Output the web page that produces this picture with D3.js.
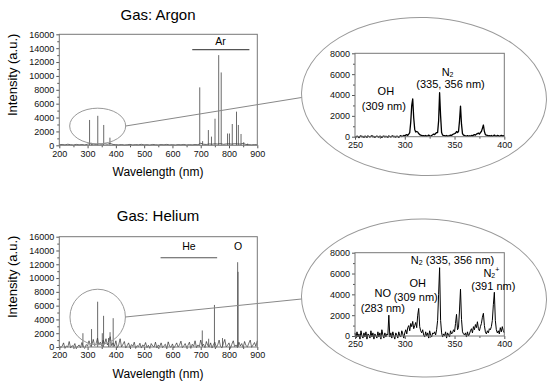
<!DOCTYPE html>
<html>
<head>
<meta charset="utf-8">
<script src="https://cdn.jsdelivr.net/npm/d3@7"></script>
<style>
body { margin: 0; background: #fff; }
svg { font-family: "Liberation Sans", Arial, sans-serif; }
</style>
</head>
<body>
<svg id="chart" width="550" height="385"></svg>
<script>
// tick labels
const mainXTicks = [200, 300, 400, 500, 600, 700, 800, 900];
const mainXMinor = [250, 350, 450, 550, 650, 750, 850];
const mainYTicks = [0, 2000, 4000, 6000, 8000, 10000, 12000, 14000, 16000];
const mainYMinor = [1000, 3000, 5000, 7000, 9000, 11000, 13000, 15000];
const insetXTicks = [250, 300, 350, 400];
const insetXMinor = [275, 325, 375];
const insetYTicks = [0, 2000, 4000, 6000, 8000];
const insetYMinor = [1000, 3000, 5000, 7000];

// argon, full range: baseline every 10 nm (200..900) + emission lines
const arBase = [80, 120, 60, 150, 90, 40, 130, 70, 110, 50,
  160, 250, 180, 120, 200, 140, 230, 150, 260, 120,
  90, 60, 110, 40, 80, 130, 50, 100, 70, 140,
  60, 90, 40, 120, 80, 50, 110, 70, 130, 60,
  90, 40, 100, 70, 120, 50, 90, 60, 110, 80,
  300, 150, 120, 200, 160, 220, 180, 250, 140, 190,
  210, 170, 230, 200, 180, 260, 120, 90, 60, 100, 80];
const arLineNm = [307, 313, 316, 336, 357, 379, 696.5, 706.7, 727, 738, 750.5, 763.5, 772.4,
  794.8, 801.5, 811.5, 826.5, 833, 842.5, 852, 866];
const arLineI = [3650, 350, 250, 4250, 2930, 1100, 8350, 600, 2200, 1250, 3830, 13000, 10500,
  1700, 1700, 3070, 4850, 2930, 1630, 450, 250];

// helium, full range: noise every 5 nm (200..900) + emission lines
const heBase = [250, -100, 100, 600, -200, 150, 0, 800, -150, 200,
  50, 500, -250, 100, 300, -100, 650, 0, -200, 350,
  150, 900, 100, 300, 1100, 200, 500, 1300, 300, 700,
  200, 1000, 400, 1200, 300, 800, 1500, 200, 600, 100,
  900, -100, 300, 1200, 0, 400, 800, -150, 200, 600,
  -100, 350, 100, 700, -200, 200, 50, 550, -150, 300,
  100, 650, -100, 250, -200, 500, 150, 0, 700, -150,
  300, 50, 600, -100, 200, 400, -250, 750, 100, -50,
  450, -150, 200, 600, 0, 300, 850, -100, 150, 500,
  -50, 250, 700, -200, 400, 100, 900, -100, 300, 50,
  1000, 150, 400, -100, 800, 200, 0, 600, -150, 350,
  700, -50, 300, 1000, 100, -150, 500, 1100, 0, 250,
  600, -200, 400, 900, 50, 300, -100, 700, 150, 500,
  -100, 800, 200, 0, 550, 1000, -50, 300, 650, 100, 900];
const heLineNm = [283.5, 314, 335.5, 352, 356.5, 374, 379.5, 390.5, 705.5, 728, 748.5, 777, 830.5, 832];
const heLineI = [2000, 2600, 6570, 2000, 4520, 1300, 2150, 4180, 2400, 1200, 6100, 1300, 12300, 10900];

// zoomed spectra, 1 nm steps from 250 to 400 nm
const arZoom = [20, -40, 60, 0, -80, 40, 80, -20, 30, -60,
  50, 10, -50, 70, 20, -30, 40, 90, -10, 30,
  -60, 20, 60, 0, -40, 50, 10, -70, 30, 60,
  -20, 40, 0, -50, 70, 20, -30, 50, 80, -10,
  30, -40, 60, 10, -60, 40, 100, 20, 60, 120,
  80, 150, 200, 120, 250, 400, 1400, 3000, 3620, 1800,
  700, 450, 500, 450, 300, 200, 150, 120, 80, 100,
  60, 120, 40, 90, 150, 80, 60, 120, 180, 250,
  200, 300, 400, 400, 1500, 4220, 2000, 400, 150, 120,
  100, 60, 120, 40, 80, 100, 150, 120, 200, 260,
  300, 350, 500, 400, 500, 1500, 2940, 1200, 300, 150,
  120, 80, 60, 100, 40, 90, 60, 120, 80, 150,
  200, 150, 250, 300, 350, 250, 400, 500, 800, 1120,
  500, 200, 150, 120, 80, 100, 60, 120, 40, 90,
  150, 80, 60, 120, 100, 40, 80, 130, 60, 100, 50];
const heZoom = [300, -200, 400, -100, 200, -300, 500, 0, -200, 300,
  -100, 400, -300, 200, 100, -200, 500, -100, 300, -300,
  200, 0, -200, 400, -100, 300, -300, 600, 100, -200,
  300, -100, 200, 100, 2000, -100, 300, -200, 400, 0,
  -300, 300, 100, -200, 400, 0, -100, 500, 200, -200,
  300, 600, 200, 800, 1000, 500, 1200, 900, 1400, 700,
  1000, 1300, 800, 2000, 2650, 900, 500, 300, 600, 100,
  -100, 400, 0, 300, -200, 500, 100, -100, 300, 200,
  400, 100, 600, 1500, 4000, 6560, 1500, 300, -100, 200,
  0, 400, -200, 300, 100, -100, 500, 200, 300, 600,
  400, 1200, 2080, 600, 800, 2500, 4500, 1600, 400, 200,
  100, 300, -100, 400, 0, 200, 500, 700, 300, 900,
  600, 1100, 800, 1370, 700, 500, 900, 1200, 1800, 2180,
  1000, 400, 200, 500, 300, 700, 600, 900, 1500, 3000,
  4200, 1500, 600, 300, 500, 200, 800, 400, 900, 500, 300];

const svg = d3.select("#chart");

function axesBox(g, x, y, xt, xm, yt, ym, fs) {
    const [x0, x1] = x.range();
    const [y0, y1] = y.range();
    const fmt = d3.format("d");
    g.append("g").attr("transform", `translate(0,${y0})`)
        .call(d3.axisBottom(x).tickValues(xm).tickSize(2).tickFormat(""));
    g.append("g").attr("transform", `translate(0,${y0})`)
        .call(d3.axisBottom(x).tickValues(xt).tickSize(3).tickPadding(2).tickFormat(fmt));
    g.append("g").attr("transform", `translate(${x0},0)`)
        .call(d3.axisLeft(y).tickValues(ym).tickSize(2).tickFormat(""));
    g.append("g").attr("transform", `translate(${x0},0)`)
        .call(d3.axisLeft(y).tickValues(yt).tickSize(3).tickPadding(2).tickFormat(fmt));
    g.selectAll(".domain").remove();
    g.selectAll(".tick line").attr("stroke", "#555");
    g.selectAll(".tick text").attr("font-size", fs).attr("fill", "#111")
        .attr("font-family", "Liberation Sans, Arial, sans-serif");
    g.append("rect")
        .attr("x", x0).attr("y", y1)
        .attr("width", x1 - x0).attr("height", y0 - y1)
        .attr("fill", "none").attr("stroke", "#777").attr("stroke-width", 1);
}

function mainPanel(cfg) {
    const g = svg.append("g");
    const x = d3.scaleLinear().domain([200, 900]).range([59.3, 257.3]);
    const y = d3.scaleLinear().domain([0, 16000]).range(cfg.yr);

    const pts = cfg.base.map((v, i) => [200 + i * cfg.step, v]);
    g.append("path")
        .datum(pts)
        .attr("fill", "none")
        .attr("stroke", cfg.baseColor)
        .attr("stroke-width", cfg.baseWidth)
        .attr("d", d3.line().x(d => x(d[0])).y(d => y(d[1])));

    g.selectAll(".spike")
        .data(cfg.nm.map((n, i) => [n, cfg.h[i]]))
        .enter().append("line")
        .attr("x1", d => x(d[0])).attr("x2", d => x(d[0]))
        .attr("y1", y(0)).attr("y2", d => y(d[1]))
        .attr("stroke", "#444").attr("stroke-width", 0.8);

    axesBox(g, x, y, mainXTicks, mainXMinor, mainYTicks, mainYMinor, "9px");

    g.append("text")
        .attr("x", 158).attr("y", cfg.titleY)
        .attr("text-anchor", "middle").attr("font-size", "15px")
        .text(cfg.title);
    g.append("text")
        .attr("x", 158).attr("y", y.range()[0] + 31)
        .attr("text-anchor", "middle").attr("font-size", "12px")
        .text("Wavelength (nm)");
    const yc = (y.range()[0] + y.range()[1]) / 2 - 15;
    g.append("text")
        .attr("transform", `translate(17,${yc}) rotate(-90)`)
        .attr("text-anchor", "middle").attr("font-size", "13px")
        .text("Intensity (a.u.)");

    // marker bar with element label
    g.append("line")
        .attr("x1", x(cfg.bar[0])).attr("x2", x(cfg.bar[1]))
        .attr("y1", y(cfg.bar[2])).attr("y2", y(cfg.bar[2]))
        .attr("stroke", "#555").attr("stroke-width", 1.2);
    cfg.labels.forEach(l => {
        g.append("text")
            .attr("x", x(l[0])).attr("y", y(l[1]))
            .attr("text-anchor", "middle").attr("font-size", "10.5px")
            .text(l[2]);
    });

    // small ellipse around UV region
    const e = cfg.ell;
    const cx = x(e[0]), cy = y(e[1]);
    const rx = x(e[0] + e[2]) - cx, ry = cy - y(e[1] + e[3]);
    g.append("ellipse")
        .attr("cx", cx).attr("cy", cy).attr("rx", rx).attr("ry", ry)
        .attr("fill", "none").attr("stroke", "#999").attr("stroke-width", 1);
    return {g: g, ex: cx + rx, ey: cy};
}

function insetPanel(cfg, link) {
    const g = svg.append("g");
    const B = cfg.big;
    g.append("ellipse")
        .attr("cx", B[0]).attr("cy", B[1]).attr("rx", B[2]).attr("ry", B[3])
        .attr("transform", `rotate(${B[4]},${B[0]},${B[1]})`)
        .attr("fill", "none").attr("stroke", "#999").attr("stroke-width", 1);
    g.append("line")
        .attr("x1", link.ex).attr("y1", link.ey)
        .attr("x2", B[0] - B[2]).attr("y2", B[1] + 1)
        .attr("stroke", "#888").attr("stroke-width", 1);

    const x = d3.scaleLinear().domain([250, 400]).range([355, 504.3]);
    const y = d3.scaleLinear().domain([0, 8000]).range(cfg.yr);
    const pts = cfg.data.map((v, i) => [250 + i, v]);
    g.append("path")
        .datum(pts)
        .attr("fill", "none")
        .attr("stroke", "#000")
        .attr("stroke-width", cfg.lw)
        .attr("stroke-linejoin", "round")
        .attr("d", d3.line().x(d => x(d[0])).y(d => y(d[1])));

    axesBox(g, x, y, insetXTicks, insetXMinor, insetYTicks, insetYMinor, "9px");

    cfg.labels.forEach(l => {
        const t = g.append("text")
            .attr("x", x(l[0])).attr("y", y(l[1]))
            .attr("text-anchor", "middle").attr("font-size", "11px");
        l[2].forEach(p => {
            const s = t.append("tspan").text(p[0]);
            if (p[1] === "sub") s.attr("font-size", "7px").attr("dy", "1.5");
            if (p[1] === "sup") s.attr("font-size", "7px").attr("dy", "-6");
            if (p[1] === "up") s.attr("dy", "-1.5");
        });
    });
}

const argonPanel = mainPanel({
    title: "Gas: Argon", titleY: 20, yr: [145.3, 34.3],
    base: arBase, step: 10, baseColor: "#222", baseWidth: 0.7,
    nm: arLineNm, h: arLineI,
    bar: [670, 872, 13800],
    labels: [[770, 14500, "Ar"]],
    ell: [335.7, 2780, 99, 2570]
});
insetPanel({
    big: [424, 96.5, 122.5, 79, 2],
    yr: [136.7, 53.3], data: arZoom, lw: 1.3,
    labels: [
        [281, 4000, [["OH", ""]]],
        [279, 2550, [["(309 nm)", ""]]],
        [343, 5850, [["N", ""], ["2", "sub"]]],
        [346, 4700, [["(335, 356 nm)", ""]]]
    ]
}, argonPanel);

const heliumPanel = mainPanel({
    title: "Gas: Helium", titleY: 221, yr: [347, 236.7],
    base: heBase, step: 5, baseColor: "#111", baseWidth: 0.6,
    nm: heLineNm, h: heLineI,
    bar: [558, 758, 12950],
    labels: [[658, 14000, "He"], [832, 14000, "O"]],
    ell: [335.7, 4350, 98, 4030]
});
insetPanel({
    big: [424, 298, 122.5, 79, 1],
    yr: [336, 252.7], data: heZoom, lw: 1,
    labels: [
        [278, 3750, [["NO", ""]]],
        [278, 2350, [["(283 nm)", ""]]],
        [313, 4750, [["OH", ""]]],
        [311, 3350, [["(309 nm)", ""]]],
        [348, 6950, [["N", ""], ["2", "sub"], [" (335, 356 nm)", "up"]]],
        [387, 5700, [["N", ""], ["2", "sub"], ["+", "sup"]]],
        [389, 4400, [["(391 nm)", ""]]]
    ]
}, heliumPanel);
</script>
</body>
</html>
